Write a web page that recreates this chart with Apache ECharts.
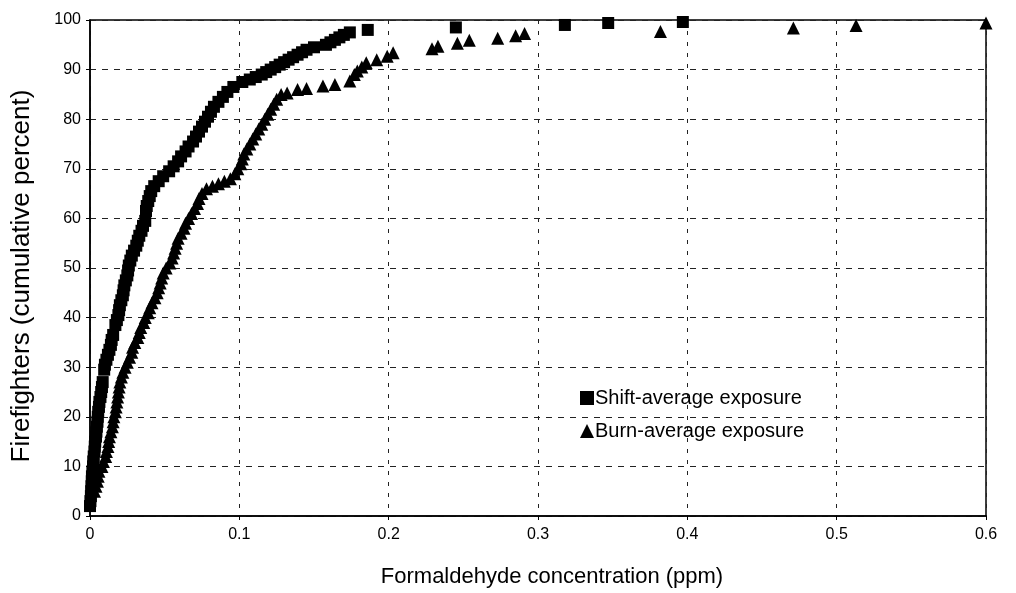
<!DOCTYPE html>
<html>
<head>
<meta charset="utf-8">
<script src="https://cdn.jsdelivr.net/npm/echarts@6/dist/echarts.min.js"></script>
<style>
html,body{margin:0;padding:0;background:#fff;}
#chart{width:1016px;height:593px;}
</style>
</head>
<body>
<div id="chart"></div>
<script>
// Shift-average exposure (squares)
const shiftX = [0.0,0.0003,0.0006,0.0008,0.001,0.0012,0.0013,0.0016,0.002,0.0022,0.0025,0.003,0.0032,0.0035,0.004,0.0043,0.0046,0.005,0.0052,0.0055,0.006,0.0063,0.007,0.0075,0.008,0.0085,
0.0095,0.010,0.011,0.012,0.013,0.014,0.0145,0.0155,
0.017,0.018,0.019,0.0195,0.020,0.021,0.022,0.0225,0.023,0.024,0.025,0.0255,0.026,0.027,0.028,0.0295,0.031,0.032,0.033,0.0345,0.0355,0.037,
0.0375,0.038,0.039,0.040,0.041,0.043,0.046,0.049,0.053,0.056,0.059,0.061,0.064,0.066,0.069,0.071,0.073,0.075,0.077,0.079,0.081,0.083,0.086,0.089,0.092,0.096,0.102,0.107,0.111,0.115,0.118,0.121,0.124,0.127,0.130,0.133,0.136,0.139,0.142,0.145,0.150,0.158,0.161,0.164,0.167,0.170,0.174,0.186,0.245,0.318,0.347,0.397];
const shiftY = [2,3,4,5,6,7,8,9,10,11,12,13,14,15,16,17,18,19,20,21,22,23,24,25,26,27,
29.5,30.5,31.5,32.5,33.5,34.5,35.5,36.5,
38.5,39.5,40.5,41.5,42.5,43.5,44.5,45.5,46.5,47.5,48.5,49.5,50.5,51.5,52.5,53.5,54.5,55.5,56.5,57.5,58.5,59.5,
61.5,62.5,63.5,64.5,65.5,66.5,67.5,68.5,69.5,70.5,71.5,72.5,73.5,74.5,75.5,76.5,77.5,78.5,79.5,80.5,81.5,82.5,83.5,84.5,85.5,86.5,87.5,88,88.5,89,89.5,90,90.5,91,91.5,92,92.5,93,93.5,94,94.5,95,95.5,96,96.5,97,97.5,98,98.5,99,99.4,99.6];

// Burn-average exposure (triangles)
const burnX = [0.003,0.004,0.005,0.0055,0.006,0.008,0.009,0.0105,0.011,0.012,0.0125,0.013,0.014,0.015,0.0155,0.016,0.017,0.0175,0.018,0.0185,0.019,0.0195,0.020,0.021,0.022,0.0235,0.025,0.0265,0.028,0.0285,0.030,0.032,0.033,0.034,0.036,0.037,0.039,0.040,0.0415,0.0435,0.045,0.046,0.047,0.048,0.049,0.051,0.0535,0.055,0.056,0.057,0.058,0.059,0.061,0.063,0.064,0.066,0.068,0.070,0.072,0.073,0.075,0.078,0.082,0.086,0.090,0.094,0.097,0.099,0.101,0.102,0.103,0.105,0.107,0.109,0.111,0.113,0.115,0.117,0.119,0.121,0.123,0.125,0.128,0.132,0.139,0.145,0.156,0.164,0.174,0.177,0.179,0.182,0.185,0.192,0.199,0.203,0.229,0.233,0.246,0.254,0.273,0.285,0.291,0.382,0.471,0.513,0.600];
const burnY = [5,6,7,8,9,10,11,12,13,14,15,16,17,18,19,20,21,22,23,24,25,26,27,28,29,30,31,32,33,34,35,36,37,38,39,40,41,42,43,44,45,46,47,48,49,50,51,52,53,54,55,56,57,58,59,60,61,62,63,64,65,66,66.5,67,67.5,68,69,70,71,72,73,74,75,76,77,78,79,80,81,82,83,84,85,85.3,86,86.2,86.7,87,87.7,89,89.7,90.5,91.4,92,92.7,93.4,94.2,94.7,95.3,95.9,96.3,96.8,97.3,97.7,98.4,98.9,99.4];

const xTicks = [0, 0.1, 0.2, 0.3, 0.4, 0.5, 0.6];
const yTicks = [0,10,20,30,40,50,60,70,80,90,100];

const zip = (xs, ys) => xs.map((x, i) => [x, ys[i]]);
const FONT = 'Liberation Sans, Arial, Helvetica, sans-serif';

const chart = echarts.init(document.getElementById('chart'), null, {renderer: 'canvas'});
chart.setOption({
  animation: false,
  backgroundColor: '#fff',
  grid: {left: 90, right: 30, top: 20, bottom: 77, show: true, borderColor: '#000', borderWidth: 1.5},
  legend: {
    orient: 'vertical', left: 575, top: 383, itemGap: 13,
    itemWidth: 14, itemHeight: 14,
    itemStyle: {opacity: 1, color: '#000'},
    textStyle: {fontFamily: FONT, fontSize: 20, color: '#000', padding: [0,0,0,-4]},
    data: [{name: 'Shift-average exposure', icon: 'rect'}, {name: 'Burn-average exposure', icon: 'triangle'}]
  },
  xAxis: {
    type: 'value', min: xTicks[0], max: xTicks[xTicks.length-1], interval: 0.1,
    name: 'Formaldehyde concentration (ppm)', nameLocation: 'middle', nameGap: 50,
    nameTextStyle: {fontFamily: FONT, fontSize: 22, color: '#000', padding: [0, 0, 0, 28]},
    axisLine: {show: true, lineStyle: {color: '#000', width: 1.5}},
    axisTick: {show: true, length: 4, lineStyle: {color: '#000'}},
    axisLabel: {fontFamily: FONT, fontSize: 16, color: '#000', margin: 11,
      formatter: v => String(Math.round(v*10)/10)},
    splitLine: {show: true, lineStyle: {color: '#222', width: 1, type: [4, 7]}}
  },
  yAxis: {
    type: 'value', min: yTicks[0], max: yTicks[yTicks.length-1], interval: 10,
    name: 'Firefighters (cumulative percent)', nameLocation: 'middle', nameGap: 55,
    nameTextStyle: {fontFamily: FONT, fontSize: 26, color: '#000', padding: [0, 16, 0, 0]},
    axisLine: {show: true, lineStyle: {color: '#000', width: 1.5}},
    axisTick: {show: true, length: 4, lineStyle: {color: '#000'}},
    axisLabel: {fontFamily: FONT, fontSize: 16, color: '#000', margin: 9},
    splitLine: {show: true, lineStyle: {color: '#222', width: 1, type: [6, 6]}}
  },
  series: [
    {name: 'Shift-average exposure', type: 'scatter', symbol: 'rect', symbolSize: 12,
     itemStyle: {color: '#000', opacity: 1}, data: zip(shiftX, shiftY)},
    {name: 'Burn-average exposure', type: 'scatter', symbol: 'triangle', symbolSize: 13,
     itemStyle: {color: '#000', opacity: 1}, data: zip(burnX, burnY)}
  ]
});
</script>
</body>
</html>
